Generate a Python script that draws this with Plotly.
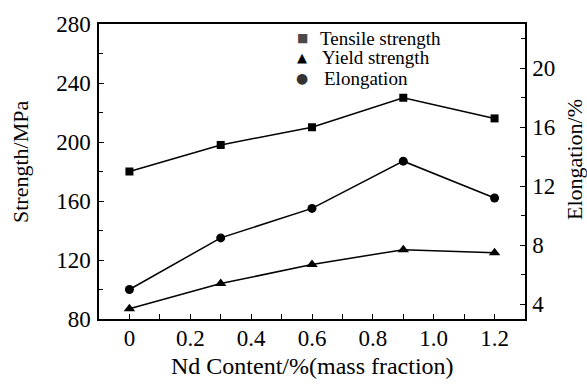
import plotly.graph_objects as go

nd_content = [0, 0.3, 0.6, 0.9, 1.2]
tensile_strength = [180, 198, 210, 230, 216]
yield_strength = [87, 104, 117, 127, 125]
elongation = [5.0, 8.5, 10.5, 13.7, 11.2]

x_tickvals = [0, 0.2, 0.4, 0.6, 0.8, 1.0, 1.2]
x_ticktext = ["0", "0.2", "0.4", "0.6", "0.8", "1.0", "1.2"]
y_tickvals = [80, 120, 160, 200, 240, 280]
y2_tickvals = [4, 8, 12, 16, 20]

legend_names = ["Tensile strength", "Yield strength", "Elongation"]
legend_symbols = ["■", "▲", "●"]

FONT = "Liberation Serif"
W, H = 587, 385
PL, PR, PT, PB = 99, 525, 24, 319
L, T = PL, PT
R, B = W - PR, H - PB
pw, ph = PR - PL, PB - PT

fig = go.Figure()
fig.add_trace(go.Scatter(x=nd_content, y=tensile_strength, mode="lines+markers",
                         name=legend_names[0], line=dict(color="black", width=1.5),
                         marker=dict(symbol="square", size=8, color="black")))
fig.add_trace(go.Scatter(x=nd_content, y=yield_strength, mode="lines+markers",
                         name=legend_names[1], line=dict(color="black", width=1.5),
                         marker=dict(symbol="triangle-up", size=10, color="black")))
fig.add_trace(go.Scatter(x=nd_content, y=elongation, mode="lines+markers", yaxis="y2",
                         name=legend_names[2], line=dict(color="black", width=1.5),
                         marker=dict(symbol="circle", size=9, color="black")))

axis_common = dict(showline=True, linecolor="black", linewidth=1.5, ticks="inside",
                   ticklen=5, tickwidth=1.2, tickcolor="black", showgrid=False,
                   zeroline=False, tickfont=dict(family=FONT, size=23, color="black"))

fig.update_layout(
    width=W, height=H,
    margin=dict(l=L, r=R, t=T, b=B, autoexpand=False),
    paper_bgcolor="white", plot_bgcolor="white",
    showlegend=False,
    font=dict(family=FONT, color="black"),
    xaxis=dict(range=[-0.1, 1.3], tickvals=x_tickvals, ticktext=x_ticktext,
               minor=dict(dtick=0.1, ticks="inside", ticklen=5, tickwidth=1.2, tickcolor="black"),
               mirror=True, ticklabelstandoff=-2, **axis_common),
    yaxis=dict(range=[80, 280], tickvals=y_tickvals,
               minor=dict(dtick=20, ticks="inside", ticklen=4, tickwidth=1.2, tickcolor="black"),
               ticklabelstandoff=2, **axis_common),
    yaxis2=dict(range=[3, 23], tickvals=y2_tickvals, overlaying="y", side="right",
                minor=dict(dtick=2, ticks="inside", ticklen=4, tickwidth=1.2, tickcolor="black"),
                ticklabelstandoff=1, **axis_common),
)

def px_x(p):
    return (p - PL) / pw

def px_y(p):
    return 1 - (p - PT) / ph

# axis titles
fig.add_annotation(text="Nd Content/%(mass fraction)", xref="paper", yref="paper",
                   x=px_x(312), y=px_y(366), showarrow=False, xanchor="center", yanchor="middle",
                   font=dict(family=FONT, size=24, color="black"))
fig.add_annotation(text="Strength/MPa", xref="paper", yref="paper", textangle=-90,
                   x=px_x(20), y=px_y(162), showarrow=False, xanchor="center", yanchor="middle",
                   font=dict(family=FONT, size=22, color="black"))
fig.add_annotation(text="Elongation/%", xref="paper", yref="paper", textangle=-90,
                   x=px_x(574), y=px_y(160), showarrow=False, xanchor="center", yanchor="middle",
                   font=dict(family=FONT, size=22, color="black"))

# legend as text
rows_y = [38, 58, 78]
sym_sizes = [12, 13, 14]
sym_colors = ["#4a4a4a", "#000000", "#333333"]
text_x = [318, 320, 322]
for name, sym, yy, ss, sc, tx in zip(legend_names, legend_symbols, rows_y, sym_sizes, sym_colors, text_x):
    fig.add_annotation(text=sym, xref="paper", yref="paper", x=px_x(302), y=px_y(yy),
                       showarrow=False, xanchor="center", yanchor="middle",
                       font=dict(family="DejaVu Sans", size=ss, color=sc))
    fig.add_annotation(text=name, xref="paper", yref="paper", x=px_x(tx), y=px_y(yy),
                       showarrow=False, xanchor="left", yanchor="middle",
                       font=dict(family=FONT, size=19, color="black"))

fig.write_html("out.html", config={"displayModeBar": False},
               post_script="document.body.style.margin='0';")
